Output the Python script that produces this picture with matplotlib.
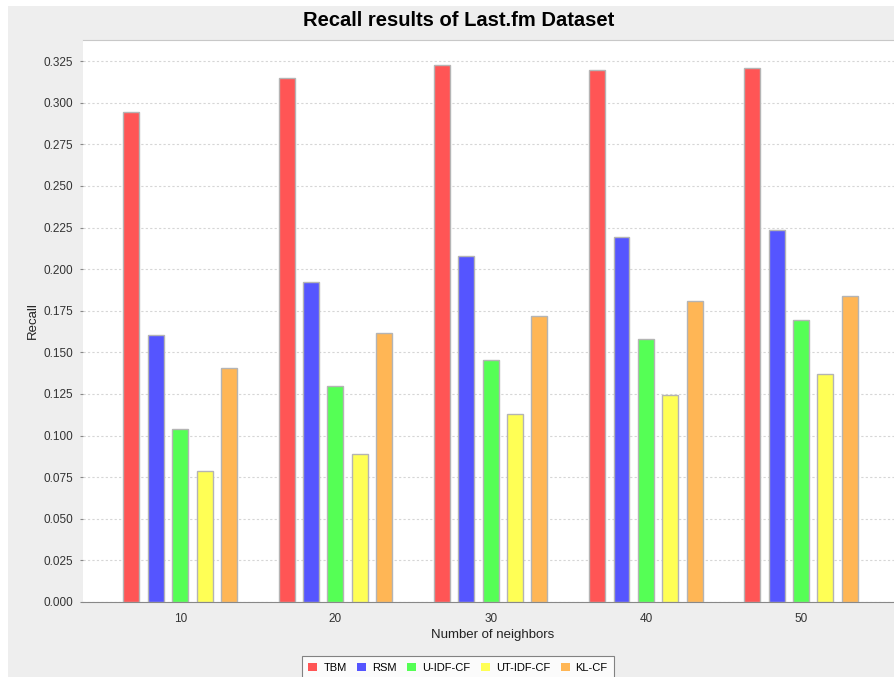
import matplotlib
matplotlib.use('Agg')
import matplotlib.pyplot as plt
import numpy as np
from matplotlib.patches import Patch, Rectangle

# Data
neighbors = ['10', '20', '30', '40', '50']
series_names = ['TBM', 'RSM', 'U-IDF-CF', 'UT-IDF-CF', 'KL-CF']
tbm = [0.2946, 0.3151, 0.3228, 0.3198, 0.3206]
rsm = [0.1607, 0.1922, 0.2080, 0.2191, 0.2238]
u_idf_cf = [0.1040, 0.1300, 0.1456, 0.1578, 0.1695]
ut_idf_cf = [0.0788, 0.0891, 0.1127, 0.1242, 0.1373]
kl_cf = [0.1407, 0.1615, 0.1719, 0.1807, 0.1836]
y_ticks = [0.000, 0.025, 0.050, 0.075, 0.100, 0.125, 0.150, 0.175,
           0.200, 0.225, 0.250, 0.275, 0.300, 0.325]

colors = ['#FF5555', '#5555FF', '#55FF55', '#FFFF55', '#FFB655']

plt.rcParams['font.family'] = ['Liberation Sans', 'DejaVu Sans']

W, H = 894, 677
fig = plt.figure(figsize=(W / 100, H / 100), dpi=100)
fig.patch.set_facecolor('white')
# grey chart background (thin white strip left and top)
fig.patches.append(Rectangle((8 / W, 0), 1, 1 - 6 / H, transform=fig.transFigure,
                             facecolor='#EEEEEE', edgecolor='none', zorder=-1))

ax = fig.add_axes([83 / W, 1 - 602 / H, (W - 83) / W + 0.01, (602 - 40) / H])
ax.set_facecolor('white')

x = np.arange(len(neighbors))
step = 0.157
width = 0.103
all_series = [tbm, rsm, u_idf_cf, ut_idf_cf, kl_cf]
for i, vals in enumerate(all_series):
    ax.bar(x + (i - 2) * step, vals, width=width, color=colors[i],
           edgecolor='#B4B4B4', linewidth=1, zorder=3)

ax.set_xlim(-0.626, 4.606 + 0.05)
ax.set_ylim(0, 0.3377)
ax.set_yticks(y_ticks)
ax.set_yticklabels(['%.3f' % v for v in y_ticks])
ax.set_xticks(x)
ax.set_xticklabels(neighbors)

ax.yaxis.grid(True, color='#D6D6D6', linestyle=(0, (2, 2)), linewidth=0.8, zorder=0)
ax.xaxis.grid(False)

ax.tick_params(axis='y', length=2, color='#888888', labelsize=8.5, pad=5, labelcolor='#333333')
ax.tick_params(axis='x', length=0, labelsize=8.5, pad=8, labelcolor='#333333')

for side in ['left', 'right']:
    ax.spines[side].set_visible(False)
ax.spines['top'].set_color('#C8C8C8')
ax.spines['bottom'].set_color('#888888')

ax.set_xlabel('Number of neighbors', fontsize=9.5, labelpad=3, color='#222222')
ax.set_ylabel('Recall', fontsize=9.5, labelpad=3, color='#222222')

fig.text(459 / W, 1 - 20 / H, 'Recall results of Last.fm Dataset', ha='center', va='center',
         fontsize=14.5, fontweight='bold', color='black')

handles = [Patch(facecolor=c, edgecolor='none') for c in colors]
leg = fig.legend(handles, series_names, loc='upper center', ncol=5,
                 bbox_to_anchor=(458 / W, 1 - 656 / H), fontsize=8,
                 frameon=True, fancybox=False, edgecolor='#666666',
                 handlelength=0.8, handleheight=0.8, handletextpad=0.55,
                 columnspacing=0.95, borderpad=0.6, borderaxespad=0)
leg.get_frame().set_linewidth(0.8)
leg.get_frame().set_facecolor('white')

plt.savefig('out.png', dpi=100, facecolor=fig.get_facecolor())
plt.close()
